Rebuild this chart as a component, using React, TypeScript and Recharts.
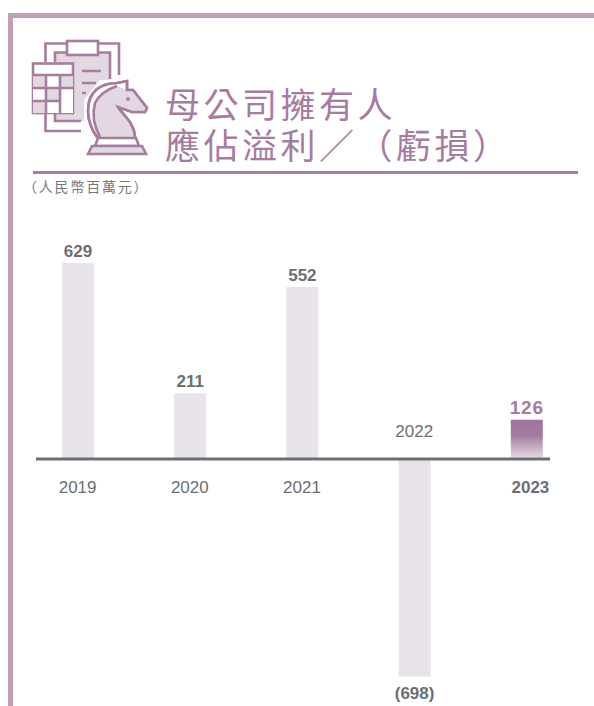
import React from 'react';
import { BarChart, Bar, XAxis, YAxis, Cell, LabelList, ReferenceLine } from 'recharts';

const years = ['2019', '2020', '2021', '2022', '2023'];
const profits = [629, 211, 552, -698, 126];

const titleLines = ['母公司擁有人', '應佔溢利／（虧損）'];
const unitLabel = '（人民幣百萬元）';

const PURPLE = '#a67c9f';
const FRAME = '#bf9fb9';
const PALE = '#e9e3ec';
const FILL = '#e3d8e2';
const GREY = '#6d6e71';
const CJK = '"Noto Sans CJK TC", sans-serif';
const LATIN = '"Liberation Sans", Arial, sans-serif';

const data = years.map((year, i) => ({ year, profit: profits[i] }));
const latest = years[years.length - 1];

const YearTick = (props: any) => {
    const { x, payload, index } = props;
    const isNegative = profits[index] < 0;
    const isLatest = payload.value === latest;
    return (
        <text
            x={isLatest ? x + 3.5 : x - 0.5}
            y={isNegative ? 437 : 493}
            textAnchor="middle"
            fontFamily={LATIN}
            fontSize={17}
            fontWeight={isLatest ? 700 : 400}
            fill={GREY}
        >
            {payload.value}
        </text>
    );
};

const ValueLabel = (props: any) => {
    const { x, y, width, height, value } = props;
    const top = Math.min(y, y + height);
    const bottom = Math.max(y, y + height);
    const isLatest = value === profits[profits.length - 1];
    return (
        <text
            x={x + width / 2}
            y={value < 0 ? bottom + 23 : top - 6}
            textAnchor="middle"
            fontFamily={LATIN}
            fontSize={isLatest ? 19 : 17}
            fontWeight={700}
            letterSpacing={isLatest ? 0.8 : 0}
            fill={isLatest ? PURPLE : GREY}
        >
            {value < 0 ? `(${Math.abs(value)})` : value}
        </text>
    );
};

const ZeroLine = (props: any) => (
    <line x1={36} x2={550} y1={props.y1 ?? props.y} y2={props.y2 ?? props.y} stroke={GREY} strokeWidth={3} />
);

const Icon = () => (
    <g fill="none" stroke={PURPLE} strokeWidth={2.6}>
        <path d="M45.5 62V43.5H67M98 43.5H119V75M45.5 113V131H81" />
        <path d="M55 53H110V80H100L84 100V121H55Z" fill={FILL} stroke="none" />
        <path d="M55 62V52.5H67M98 52.5H110V79M55 113V121H81" />
        <rect x={67} y={41} width={31} height={14} fill="#fff" />
        <rect x={33} y={63.5} width={40} height={49.5} fill="#fff" />
        <path d="M33 75H73V113H33Z" fill={FILL} stroke="none" />
        <path d="M46 75H60V88H46ZM33 88H46V101H33ZM60 88H73V113H60ZM46 101H60V113H46Z" fill="#fff" stroke="none" />
        <path d="M33 75H73M33 88H73M33 101H60M46 75V113M60 75V113" />
        <path d="M82 71H101M82 83H96M82 93H86" />
        <path d="M97 137C86 122 84 100 97 89C104 84 111 83 117 83L127 81V90H133L147 108L145 112H132L118 107C122 114 134 122 135 137Z" fill="#fff" />
        <path d="M100 137C94 126 92 114 95 103C99 95 108 89 117 86L127 90H133L147 108L145 112H132L118 107C122 114 134 122 135 137Z" fill={FILL} stroke="none" />
        <path d="M100 137C94 126 92 114 95 103C99 95 108 89 117 86" />
        <path d="M97 137C86 122 84 100 97 89C104 84 111 83 117 83L127 81V90H133L147 108L145 112H132L118 107C122 114 134 122 135 137" />
        <path d="M95 146L98 138H136L139 146Z" fill="#fff" />
        <path d="M88 154L92 146H142L146 154Z" fill={FILL} />
        <circle cx={128} cy={99} r={0.8} />
    </g>
);

const Header = () => (
    <svg width={594} height={706} style={{ position: 'absolute', left: 0, top: 0 }}>
        <path d="M594 15.5H10.5V706" fill="none" stroke={FRAME} strokeWidth={5} />
        <Icon />
        {titleLines.map((line, i) => (
            <text key={line} x={165} y={118 + i * 41} fontFamily={CJK} fontSize={35} letterSpacing={3.5} fill={PURPLE}>
                {line}
            </text>
        ))}
        <line x1={33} x2={578} y1={172.5} y2={172.5} stroke={PURPLE} strokeWidth={3} />
        <text x={23} y={192} fontFamily={CJK} fontSize={14} letterSpacing={1.8} fill="#77787b">
            {unitLabel}
        </text>
    </svg>
);

const App: React.FC = () => {
    return (
        <div style={{ position: 'fixed', left: 0, top: 0, width: 594, height: 706, background: '#fff', overflow: 'hidden' }}>
            <Header />
            <div style={{ position: 'absolute', left: 0, top: 0 }}>
                <BarChart
                    width={594}
                    height={706}
                    data={data}
                    margin={{ top: 247.2, right: 11, bottom: 0, left: 22 }}
                >
                    <defs>
                        <linearGradient id="latestBar" x1="0" y1="0" x2="0" y2="1">
                            <stop offset="0%" stopColor="#a0749b" />
                            <stop offset="40%" stopColor="#a47b9e" />
                            <stop offset="100%" stopColor="#e8dfe8" />
                        </linearGradient>
                    </defs>
                    <XAxis dataKey="year" height={16.5} axisLine={false} tickLine={false} tick={<YearTick />} interval={0} />
                    <YAxis hide domain={[-740, 680]} allowDataOverflow />
                    <Bar dataKey="profit" barSize={32} isAnimationActive={false}>
                        {data.map(d => (
                            <Cell key={d.year} fill={d.year === latest ? 'url(#latestBar)' : PALE} />
                        ))}
                        <LabelList dataKey="profit" content={<ValueLabel />} />
                    </Bar>
                    <ReferenceLine y={0} shape={<ZeroLine />} />
                </BarChart>
            </div>
        </div>
    );
};

export default App;
